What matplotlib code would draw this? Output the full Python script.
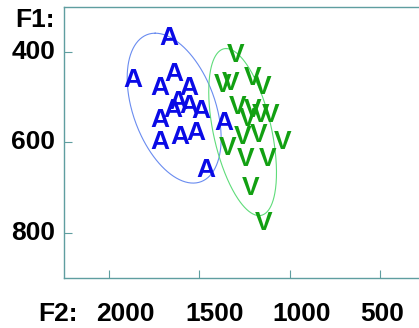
import numpy as np
import matplotlib
matplotlib.use("Agg")
import matplotlib.pyplot as plt

# Vowel "A" tokens (F2, F1 in Hz)
a_f2 = [1672, 1867, 1644, 1717, 1561, 1622, 1650, 1561, 1494, 1717, 1606, 1522, 1722, 1467, 1367]
a_f1 = [369, 462, 449, 480, 480, 511, 529, 520, 531, 551, 589, 578, 600, 662, 558]
# Vowel "V" tokens
v_f2 = [1300, 1372, 1328, 1206, 1150, 1289, 1206, 1161, 1106, 1233, 1261, 1172, 1039, 1344, 1244, 1122, 1217, 1144]
v_f1 = [407, 473, 469, 458, 478, 522, 529, 540, 540, 547, 589, 584, 600, 613, 636, 636, 700, 778]

# Ellipses: centre (F2, F1) and two conjugate semi-axis vectors (dF2, dF1)
a_ell_center = [1640, 524]
a_ell_u = [105, -166]
a_ell_v = [-238, 0]
v_ell_center = [1261, 577]
v_ell_u = [91, -185]
v_ell_v = [-164, 0]

xticks = [2000, 1500, 1000, 500]
yticks = [400, 600, 800]

W, H = 419, 328
fig = plt.figure(figsize=(W / 100, H / 100), dpi=100)
ax = fig.add_axes([64 / W, 1 - 278 / H, 1 - 64 / W, (278 - 7) / H])

ax.set_xlim(2250, 2250 - (W - 64) * 500 / 90.3)
ax.set_ylim(300 + (278 - 7) * 200 / 90.3, 300)

font = ["Liberation Sans", "DejaVu Sans"]
fs = 19

def ellipse(c, u, v, color):
    t = np.linspace(0, 2 * np.pi, 300)
    x = c[0] + u[0] * np.cos(t) + v[0] * np.sin(t)
    y = c[1] + u[1] * np.cos(t) + v[1] * np.sin(t)
    ax.plot(x, y, color=color, lw=0.8, zorder=1)

ellipse(a_ell_center, a_ell_u, a_ell_v, "#6a8cf0")
ellipse(v_ell_center, v_ell_u, v_ell_v, "#5fdc7a")

for x, y in zip(a_f2, a_f1):
    ax.text(x, y, "A", color="#0a0ae6", fontsize=fs, fontweight="bold",
            ha="center", va="center", family=font, zorder=3)
for x, y in zip(v_f2, v_f1):
    ax.text(x, y, "V", color="#12a012", fontsize=fs, fontweight="bold",
            ha="center", va="center", family=font, zorder=3)

spine_c = "#5f9ea0"
for s in ["left", "bottom", "top"]:
    ax.spines[s].set_color(spine_c)
    ax.spines[s].set_linewidth(1.0)
ax.spines["right"].set_visible(False)

ax.set_xticks(xticks)
ax.set_yticks(yticks)
ax.tick_params(direction="in", length=6, width=0.8, color=spine_c)
ax.set_xticklabels([])
ax.set_yticklabels([])

for v in yticks:
    ax.text(-0.025, v, str(v), transform=ax.get_yaxis_transform(), ha="right", va="center",
            fontsize=fs, fontweight="bold", family=font)
fig.text(35 / W, 1 - 20 / H, "F1:", ha="center", va="center", fontsize=fs, fontweight="bold", family=font)

x_label_centers = [125, 215, 302, 382]
for v, cx in zip(xticks, x_label_centers):
    fig.text(cx / W, 1 - 314 / H, str(v), ha="center", va="center", fontsize=fs, fontweight="bold", family=font)
fig.text(58 / W, 1 - 314 / H, "F2:", ha="center", va="center", fontsize=fs, fontweight="bold", family=font)

fig.savefig("out.png", dpi=100)
